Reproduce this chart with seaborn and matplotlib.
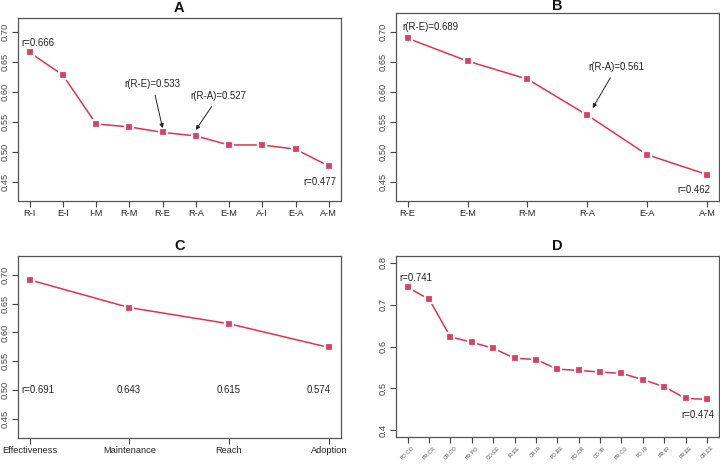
import numpy as np
import seaborn as sns
import matplotlib.pyplot as plt

# panel A
a_labels = ['R-I', 'E-I', 'I-M', 'R-M', 'R-E', 'R-A', 'E-M', 'A-I', 'E-A', 'A-M']
a_values = [0.666, 0.628, 0.547, 0.542, 0.533, 0.527, 0.512, 0.512, 0.505, 0.477]

# panel B
b_labels = ['R-E', 'E-M', 'R-M', 'R-A', 'E-A', 'A-M']
b_values = [0.689, 0.651, 0.621, 0.561, 0.495, 0.462]

# panel C
c_labels = ['Effectiveness', 'Maintenance', 'Reach', 'Adoption']
c_values = [0.691, 0.643, 0.615, 0.574]

# panel D
d_labels = ['PO.CO', 'PR.CR', 'CR.CO', 'PR.PO', 'CO.EE', 'IR.EE', 'CR.IR', 'PO.EE',
            'PO.CR', 'CO.IR', 'PR.CO', 'PO.IR', 'PR.IR', 'PR.EE', 'CR.EE']
d_values = [0.741, 0.713, 0.623, 0.610, 0.596, 0.572, 0.569, 0.546,
            0.543, 0.539, 0.536, 0.521, 0.504, 0.476, 0.474]

sns.set_theme(style='ticks')
plt.rcParams['font.family'] = ['Liberation Sans', 'DejaVu Sans']

LINE = '#e4324c'
MARK = '#dc4060'
TXT = '#222222'

fig = plt.figure(figsize=(7.2, 4.66), dpi=100)
ax_a = fig.add_axes([0.0246, 0.5687, 0.4486, 0.3927])
ax_b = fig.add_axes([0.5496, 0.5693, 0.4490, 0.4034])
ax_c = fig.add_axes([0.0246, 0.0607, 0.4486, 0.3900])
ax_d = fig.add_axes([0.5496, 0.0622, 0.4490, 0.3884])


def draw_panel(ax, labels, values, title, ylim, yticks, ytick_fmt, pad,
               xfont=6.7, rot=0):
    n = len(labels)
    x = np.arange(n)
    sns.lineplot(x=x, y=values, ax=ax, color=LINE, linewidth=1.1,
                 marker='s', markersize=5.4, markerfacecolor=MARK,
                 markeredgecolor='white', markeredgewidth=1.6)
    ext = 0.04 * (n - 1)
    ax.set_xlim(-ext, n - 1 + ext)
    ax.set_ylim(*ylim)
    ax.set_xticks(x)
    if rot:
        ax.set_xticklabels(labels, rotation=rot, ha='center', fontsize=xfont,
                           color='#555555')
    else:
        ax.set_xticklabels(labels, fontsize=xfont, color=TXT)
    ax.set_yticks(yticks)
    ax.set_yticklabels([ytick_fmt.format(v) for v in yticks], rotation=90,
                       va='center', fontsize=6.7, color='#444444')
    ax.tick_params(axis='both', length=4, width=0.8, color='#444444', pad=2)
    for s in ax.spines.values():
        s.set_visible(True)
        s.set_color('#555555')
        s.set_linewidth(0.9)
    ax.set_title(title, fontsize=10.5, fontweight='bold', pad=pad, color='#111111')


yt = [0.45, 0.50, 0.55, 0.60, 0.65, 0.70]
draw_panel(ax_a, a_labels, a_values, 'A', (0.4188, 0.7232), yt, '{:.2f}', 4)
draw_panel(ax_b, b_labels, b_values, 'B', (0.4184, 0.7316), yt, '{:.2f}', 1.5)
draw_panel(ax_c, c_labels, c_values, 'C', (0.4176, 0.7324), yt, '{:.2f}', 4)
draw_panel(ax_d, d_labels, d_values, 'D', (0.384, 0.816), [0.4, 0.5, 0.6, 0.7, 0.8],
           '{:.1f}', 4, xfont=3.8, rot=45)

fs = 6.9
arrow = dict(arrowstyle='-|>', color='#222222', lw=0.7, mutation_scale=6,
             shrinkA=2, shrinkB=0)

# A annotations
ax_a.text(-0.24, 0.681, 'r=0.666', fontsize=fs, color=TXT, va='center')
ax_a.annotate('r(R-E)=0.533', xy=(4.0, 0.540), xytext=(3.7, 0.613),
              fontsize=fs, color=TXT, ha='center', va='center', arrowprops=arrow)
ax_a.annotate('r(R-A)=0.527', xy=(5.0, 0.537), xytext=(5.69, 0.5935),
              fontsize=fs, color=TXT, ha='center', va='center', arrowprops=arrow)
ax_a.text(9.24, a_values[9] - 0.026, 'r=0.477', fontsize=fs, color=TXT,
          va='center', ha='right')

# B annotations
ax_b.text(-0.09, b_values[0] + 0.018, 'r(R-E)=0.689', fontsize=fs, color=TXT, va='center')
ax_b.annotate('r(R-A)=0.561', xy=(3.09, 0.5728), xytext=(3.49, 0.6411),
              fontsize=fs, color=TXT, ha='center', va='center', arrowprops=arrow)
ax_b.text(5.05, b_values[5] - 0.025, 'r=0.462', fontsize=fs, color=TXT,
          va='center', ha='right')

# C annotations
c_text = ['r=0.691', '0.643', '0.615', '0.574']
c_pos = [0.08, 0.99, 2.0, 2.9]
for xp, t in zip(c_pos, c_text):
    ax_c.text(xp, 0.50, t, fontsize=fs, color=TXT, ha='center', va='center')

# D annotations
ax_d.text(-0.4, d_values[0] + 0.023, 'r=0.741', fontsize=fs, color=TXT, va='center')
ax_d.text(14.35, d_values[14] - 0.037, 'r=0.474', fontsize=fs, color=TXT,
          va='center', ha='right')

fig.savefig('out.png', dpi=100)
plt.close(fig)
